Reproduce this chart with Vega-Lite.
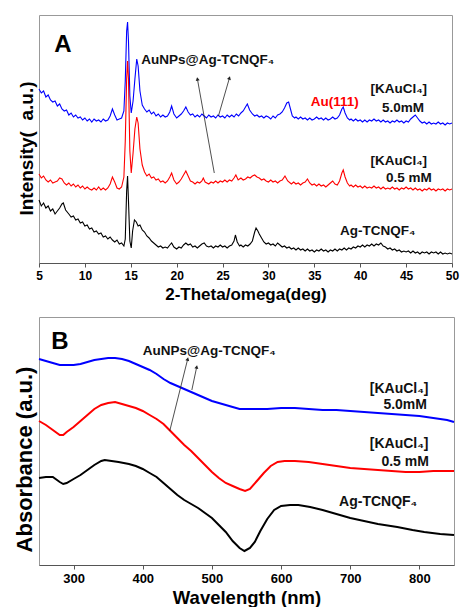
{
 "$schema": "https://vega.github.io/schema/vega-lite/v6.json",
 "background": "white",
 "padding": {"left": 12, "top": 14, "right": 4, "bottom": 0},
 "spacing": 13,
 "datasets": {
  "xrd": [
   {"s":"5.0mM","x":5,"y":174},{"s":"5.0mM","x":5.25,"y":170},{"s":"5.0mM","x":5.5,"y":172},{"s":"5.0mM","x":5.75,"y":166},{"s":"5.0mM","x":6,"y":168},{"s":"5.0mM","x":6.25,"y":163},{"s":"5.0mM","x":6.5,"y":161},{"s":"5.0mM","x":6.75,"y":162},{"s":"5.0mM","x":7,"y":157},{"s":"5.0mM","x":7.25,"y":159},{"s":"5.0mM","x":7.5,"y":154},{"s":"5.0mM","x":7.75,"y":152},{"s":"5.0mM","x":8,"y":153},{"s":"5.0mM","x":8.25,"y":148},{"s":"5.0mM","x":8.5,"y":150},{"s":"5.0mM","x":8.75,"y":146},{"s":"5.0mM","x":9,"y":148},{"s":"5.0mM","x":9.25,"y":145},{"s":"5.0mM","x":9.5,"y":146},{"s":"5.0mM","x":9.75,"y":143},{"s":"5.0mM","x":10,"y":145},{"s":"5.0mM","x":10.25,"y":142},{"s":"5.0mM","x":10.5,"y":144},{"s":"5.0mM","x":10.75,"y":141},{"s":"5.0mM","x":11,"y":144},{"s":"5.0mM","x":11.25,"y":142},{"s":"5.0mM","x":11.5,"y":143},{"s":"5.0mM","x":11.75,"y":141},{"s":"5.0mM","x":12,"y":144},{"s":"5.0mM","x":12.25,"y":142},{"s":"5.0mM","x":12.5,"y":143},{"s":"5.0mM","x":12.75,"y":147},{"s":"5.0mM","x":13,"y":154},{"s":"5.0mM","x":13.25,"y":148},{"s":"5.0mM","x":13.5,"y":143},{"s":"5.0mM","x":13.75,"y":144},{"s":"5.0mM","x":14,"y":145},{"s":"5.0mM","x":14.25,"y":152},{"s":"5.0mM","x":14.4,"y":182},{"s":"5.0mM","x":14.55,"y":232},{"s":"5.0mM","x":14.65,"y":241},{"s":"5.0mM","x":14.75,"y":222},{"s":"5.0mM","x":14.9,"y":167},{"s":"5.0mM","x":15.05,"y":150},{"s":"5.0mM","x":15.25,"y":162},{"s":"5.0mM","x":15.45,"y":184},{"s":"5.0mM","x":15.65,"y":204},{"s":"5.0mM","x":15.8,"y":197},{"s":"5.0mM","x":16,"y":172},{"s":"5.0mM","x":16.25,"y":158},{"s":"5.0mM","x":16.5,"y":154},{"s":"5.0mM","x":16.75,"y":151},{"s":"5.0mM","x":17,"y":153},{"s":"5.0mM","x":17.25,"y":149},{"s":"5.0mM","x":17.5,"y":151},{"s":"5.0mM","x":17.75,"y":147},{"s":"5.0mM","x":18,"y":149},{"s":"5.0mM","x":18.25,"y":146},{"s":"5.0mM","x":18.5,"y":148},{"s":"5.0mM","x":18.75,"y":146},{"s":"5.0mM","x":19,"y":147},{"s":"5.0mM","x":19.25,"y":151},{"s":"5.0mM","x":19.45,"y":157},{"s":"5.0mM","x":19.7,"y":149},{"s":"5.0mM","x":20,"y":145},{"s":"5.0mM","x":20.25,"y":147},{"s":"5.0mM","x":20.5,"y":149},{"s":"5.0mM","x":20.75,"y":152},{"s":"5.0mM","x":21,"y":156},{"s":"5.0mM","x":21.25,"y":151},{"s":"5.0mM","x":21.5,"y":148},{"s":"5.0mM","x":21.75,"y":149},{"s":"5.0mM","x":22,"y":146},{"s":"5.0mM","x":22.25,"y":148},{"s":"5.0mM","x":22.5,"y":146},{"s":"5.0mM","x":22.75,"y":149},{"s":"5.0mM","x":23,"y":147},{"s":"5.0mM","x":23.25,"y":145},{"s":"5.0mM","x":23.5,"y":148},{"s":"5.0mM","x":23.75,"y":146},{"s":"5.0mM","x":24,"y":147},{"s":"5.0mM","x":24.25,"y":145},{"s":"5.0mM","x":24.5,"y":148},{"s":"5.0mM","x":24.75,"y":146},{"s":"5.0mM","x":25,"y":147},{"s":"5.0mM","x":25.25,"y":145},{"s":"5.0mM","x":25.5,"y":148},{"s":"5.0mM","x":25.75,"y":146},{"s":"5.0mM","x":26,"y":148},{"s":"5.0mM","x":26.25,"y":146},{"s":"5.0mM","x":26.5,"y":149},{"s":"5.0mM","x":26.75,"y":147},{"s":"5.0mM","x":27,"y":150},{"s":"5.0mM","x":27.25,"y":152},{"s":"5.0mM","x":27.5,"y":156},{"s":"5.0mM","x":27.7,"y":159},{"s":"5.0mM","x":27.95,"y":153},{"s":"5.0mM","x":28.25,"y":149},{"s":"5.0mM","x":28.5,"y":147},{"s":"5.0mM","x":28.75,"y":148},{"s":"5.0mM","x":29,"y":146},{"s":"5.0mM","x":29.25,"y":147},{"s":"5.0mM","x":29.5,"y":145},{"s":"5.0mM","x":29.75,"y":147},{"s":"5.0mM","x":30,"y":146},{"s":"5.0mM","x":30.25,"y":144},{"s":"5.0mM","x":30.5,"y":147},{"s":"5.0mM","x":30.75,"y":145},{"s":"5.0mM","x":31,"y":148},{"s":"5.0mM","x":31.25,"y":149},{"s":"5.0mM","x":31.5,"y":151},{"s":"5.0mM","x":31.75,"y":155},{"s":"5.0mM","x":32,"y":160},{"s":"5.0mM","x":32.2,"y":161},{"s":"5.0mM","x":32.4,"y":154},{"s":"5.0mM","x":32.6,"y":147},{"s":"5.0mM","x":32.85,"y":145},{"s":"5.0mM","x":33,"y":146},{"s":"5.0mM","x":33.25,"y":144},{"s":"5.0mM","x":33.5,"y":146},{"s":"5.0mM","x":33.75,"y":144},{"s":"5.0mM","x":34,"y":145},{"s":"5.0mM","x":34.25,"y":143},{"s":"5.0mM","x":34.5,"y":145},{"s":"5.0mM","x":34.75,"y":143},{"s":"5.0mM","x":35,"y":144},{"s":"5.0mM","x":35.25,"y":146},{"s":"5.0mM","x":35.5,"y":144},{"s":"5.0mM","x":35.75,"y":145},{"s":"5.0mM","x":36,"y":143},{"s":"5.0mM","x":36.25,"y":145},{"s":"5.0mM","x":36.5,"y":143},{"s":"5.0mM","x":36.75,"y":144},{"s":"5.0mM","x":37,"y":146},{"s":"5.0mM","x":37.25,"y":144},{"s":"5.0mM","x":37.5,"y":145},{"s":"5.0mM","x":37.75,"y":148},{"s":"5.0mM","x":38,"y":154},{"s":"5.0mM","x":38.15,"y":156},{"s":"5.0mM","x":38.35,"y":150},{"s":"5.0mM","x":38.6,"y":145},{"s":"5.0mM","x":38.85,"y":143},{"s":"5.0mM","x":39,"y":144},{"s":"5.0mM","x":39.25,"y":142},{"s":"5.0mM","x":39.5,"y":144},{"s":"5.0mM","x":39.75,"y":142},{"s":"5.0mM","x":40,"y":143},{"s":"5.0mM","x":40.25,"y":141},{"s":"5.0mM","x":40.5,"y":143},{"s":"5.0mM","x":40.75,"y":141},{"s":"5.0mM","x":41,"y":143},{"s":"5.0mM","x":41.25,"y":142},{"s":"5.0mM","x":41.5,"y":144},{"s":"5.0mM","x":41.75,"y":142},{"s":"5.0mM","x":42,"y":143},{"s":"5.0mM","x":42.25,"y":141},{"s":"5.0mM","x":42.5,"y":143},{"s":"5.0mM","x":42.75,"y":141},{"s":"5.0mM","x":43,"y":142},{"s":"5.0mM","x":43.25,"y":140},{"s":"5.0mM","x":43.5,"y":142},{"s":"5.0mM","x":43.75,"y":141},{"s":"5.0mM","x":44,"y":143},{"s":"5.0mM","x":44.25,"y":141},{"s":"5.0mM","x":44.5,"y":142},{"s":"5.0mM","x":44.75,"y":140},{"s":"5.0mM","x":45,"y":142},{"s":"5.0mM","x":45.25,"y":141},{"s":"5.0mM","x":45.5,"y":144},{"s":"5.0mM","x":45.75,"y":146},{"s":"5.0mM","x":46,"y":148},{"s":"5.0mM","x":46.25,"y":145},{"s":"5.0mM","x":46.5,"y":142},{"s":"5.0mM","x":46.75,"y":140},{"s":"5.0mM","x":47,"y":141},{"s":"5.0mM","x":47.25,"y":139},{"s":"5.0mM","x":47.5,"y":141},{"s":"5.0mM","x":47.75,"y":139},{"s":"5.0mM","x":48,"y":140},{"s":"5.0mM","x":48.25,"y":139},{"s":"5.0mM","x":48.5,"y":141},{"s":"5.0mM","x":48.75,"y":139},{"s":"5.0mM","x":49,"y":140},{"s":"5.0mM","x":49.25,"y":138},{"s":"5.0mM","x":49.5,"y":140},{"s":"5.0mM","x":49.75,"y":139},{"s":"5.0mM","x":50,"y":140},

   {"s":"0.5mM","x":5,"y":89},{"s":"0.5mM","x":5.25,"y":85},{"s":"0.5mM","x":5.5,"y":87},{"s":"0.5mM","x":5.75,"y":83},{"s":"0.5mM","x":6,"y":81},{"s":"0.5mM","x":6.25,"y":83},{"s":"0.5mM","x":6.5,"y":80},{"s":"0.5mM","x":6.75,"y":81},{"s":"0.5mM","x":7,"y":82},{"s":"0.5mM","x":7.25,"y":85},{"s":"0.5mM","x":7.5,"y":84},{"s":"0.5mM","x":7.75,"y":80},{"s":"0.5mM","x":8,"y":78},{"s":"0.5mM","x":8.25,"y":80},{"s":"0.5mM","x":8.5,"y":77},{"s":"0.5mM","x":8.75,"y":79},{"s":"0.5mM","x":9,"y":76},{"s":"0.5mM","x":9.25,"y":78},{"s":"0.5mM","x":9.5,"y":75},{"s":"0.5mM","x":9.75,"y":77},{"s":"0.5mM","x":10,"y":74},{"s":"0.5mM","x":10.25,"y":76},{"s":"0.5mM","x":10.5,"y":74},{"s":"0.5mM","x":10.75,"y":73},{"s":"0.5mM","x":11,"y":75},{"s":"0.5mM","x":11.25,"y":73},{"s":"0.5mM","x":11.5,"y":76},{"s":"0.5mM","x":11.75,"y":73},{"s":"0.5mM","x":12,"y":75},{"s":"0.5mM","x":12.25,"y":73},{"s":"0.5mM","x":12.5,"y":75},{"s":"0.5mM","x":12.75,"y":79},{"s":"0.5mM","x":13,"y":86},{"s":"0.5mM","x":13.25,"y":81},{"s":"0.5mM","x":13.5,"y":75},{"s":"0.5mM","x":13.75,"y":74},{"s":"0.5mM","x":14,"y":76},{"s":"0.5mM","x":14.25,"y":86},{"s":"0.5mM","x":14.4,"y":122},{"s":"0.5mM","x":14.55,"y":184},{"s":"0.5mM","x":14.65,"y":202},{"s":"0.5mM","x":14.75,"y":184},{"s":"0.5mM","x":14.9,"y":112},{"s":"0.5mM","x":15.05,"y":90},{"s":"0.5mM","x":15.25,"y":110},{"s":"0.5mM","x":15.45,"y":134},{"s":"0.5mM","x":15.65,"y":146},{"s":"0.5mM","x":15.8,"y":140},{"s":"0.5mM","x":16,"y":114},{"s":"0.5mM","x":16.25,"y":98},{"s":"0.5mM","x":16.5,"y":91},{"s":"0.5mM","x":16.75,"y":87},{"s":"0.5mM","x":17,"y":89},{"s":"0.5mM","x":17.25,"y":85},{"s":"0.5mM","x":17.5,"y":86},{"s":"0.5mM","x":17.75,"y":83},{"s":"0.5mM","x":18,"y":84},{"s":"0.5mM","x":18.25,"y":81},{"s":"0.5mM","x":18.5,"y":82},{"s":"0.5mM","x":18.75,"y":80},{"s":"0.5mM","x":19,"y":82},{"s":"0.5mM","x":19.25,"y":86},{"s":"0.5mM","x":19.45,"y":90},{"s":"0.5mM","x":19.7,"y":83},{"s":"0.5mM","x":20,"y":79},{"s":"0.5mM","x":20.25,"y":81},{"s":"0.5mM","x":20.5,"y":84},{"s":"0.5mM","x":20.75,"y":88},{"s":"0.5mM","x":21,"y":92},{"s":"0.5mM","x":21.25,"y":87},{"s":"0.5mM","x":21.5,"y":82},{"s":"0.5mM","x":21.75,"y":81},{"s":"0.5mM","x":22,"y":79},{"s":"0.5mM","x":22.25,"y":81},{"s":"0.5mM","x":22.5,"y":80},{"s":"0.5mM","x":22.75,"y":82},{"s":"0.5mM","x":22.9,"y":85},{"s":"0.5mM","x":23.1,"y":81},{"s":"0.5mM","x":23.5,"y":79},{"s":"0.5mM","x":23.75,"y":81},{"s":"0.5mM","x":24,"y":80},{"s":"0.5mM","x":24.25,"y":82},{"s":"0.5mM","x":24.5,"y":80},{"s":"0.5mM","x":24.75,"y":82},{"s":"0.5mM","x":25,"y":81},{"s":"0.5mM","x":25.25,"y":83},{"s":"0.5mM","x":25.5,"y":81},{"s":"0.5mM","x":25.75,"y":83},{"s":"0.5mM","x":26,"y":82},{"s":"0.5mM","x":26.25,"y":85},{"s":"0.5mM","x":26.45,"y":88},{"s":"0.5mM","x":26.7,"y":83},{"s":"0.5mM","x":27,"y":85},{"s":"0.5mM","x":27.25,"y":83},{"s":"0.5mM","x":27.5,"y":84},{"s":"0.5mM","x":27.75,"y":86},{"s":"0.5mM","x":28,"y":85},{"s":"0.5mM","x":28.25,"y":87},{"s":"0.5mM","x":28.5,"y":88},{"s":"0.5mM","x":28.75,"y":86},{"s":"0.5mM","x":29,"y":85},{"s":"0.5mM","x":29.25,"y":83},{"s":"0.5mM","x":29.5,"y":84},{"s":"0.5mM","x":29.75,"y":82},{"s":"0.5mM","x":30,"y":81},{"s":"0.5mM","x":30.25,"y":83},{"s":"0.5mM","x":30.5,"y":81},{"s":"0.5mM","x":30.75,"y":82},{"s":"0.5mM","x":31,"y":80},{"s":"0.5mM","x":31.25,"y":82},{"s":"0.5mM","x":31.5,"y":83},{"s":"0.5mM","x":31.8,"y":87},{"s":"0.5mM","x":32.1,"y":82},{"s":"0.5mM","x":32.5,"y":79},{"s":"0.5mM","x":32.75,"y":81},{"s":"0.5mM","x":33,"y":79},{"s":"0.5mM","x":33.25,"y":80},{"s":"0.5mM","x":33.5,"y":78},{"s":"0.5mM","x":33.75,"y":80},{"s":"0.5mM","x":34,"y":81},{"s":"0.5mM","x":34.25,"y":84},{"s":"0.5mM","x":34.5,"y":80},{"s":"0.5mM","x":34.75,"y":78},{"s":"0.5mM","x":35,"y":79},{"s":"0.5mM","x":35.25,"y":77},{"s":"0.5mM","x":35.5,"y":79},{"s":"0.5mM","x":35.75,"y":77},{"s":"0.5mM","x":36,"y":78},{"s":"0.5mM","x":36.25,"y":76},{"s":"0.5mM","x":36.5,"y":78},{"s":"0.5mM","x":36.75,"y":80},{"s":"0.5mM","x":37,"y":82},{"s":"0.5mM","x":37.25,"y":79},{"s":"0.5mM","x":37.5,"y":78},{"s":"0.5mM","x":37.75,"y":82},{"s":"0.5mM","x":38,"y":90},{"s":"0.5mM","x":38.15,"y":93},{"s":"0.5mM","x":38.35,"y":86},{"s":"0.5mM","x":38.6,"y":80},{"s":"0.5mM","x":38.85,"y":77},{"s":"0.5mM","x":39,"y":78},{"s":"0.5mM","x":39.25,"y":76},{"s":"0.5mM","x":39.5,"y":78},{"s":"0.5mM","x":39.75,"y":76},{"s":"0.5mM","x":40,"y":77},{"s":"0.5mM","x":40.25,"y":75},{"s":"0.5mM","x":40.5,"y":77},{"s":"0.5mM","x":40.75,"y":75},{"s":"0.5mM","x":41,"y":76},{"s":"0.5mM","x":41.25,"y":75},{"s":"0.5mM","x":41.5,"y":77},{"s":"0.5mM","x":41.75,"y":75},{"s":"0.5mM","x":42,"y":76},{"s":"0.5mM","x":42.25,"y":74},{"s":"0.5mM","x":42.5,"y":76},{"s":"0.5mM","x":42.75,"y":74},{"s":"0.5mM","x":43,"y":75},{"s":"0.5mM","x":43.25,"y":74},{"s":"0.5mM","x":43.5,"y":76},{"s":"0.5mM","x":43.75,"y":74},{"s":"0.5mM","x":44,"y":75},{"s":"0.5mM","x":44.25,"y":73},{"s":"0.5mM","x":44.5,"y":75},{"s":"0.5mM","x":44.75,"y":74},{"s":"0.5mM","x":45,"y":76},{"s":"0.5mM","x":45.25,"y":74},{"s":"0.5mM","x":45.5,"y":75},{"s":"0.5mM","x":45.75,"y":73},{"s":"0.5mM","x":46,"y":75},{"s":"0.5mM","x":46.25,"y":73},{"s":"0.5mM","x":46.5,"y":74},{"s":"0.5mM","x":46.75,"y":72},{"s":"0.5mM","x":47,"y":74},{"s":"0.5mM","x":47.25,"y":73},{"s":"0.5mM","x":47.5,"y":75},{"s":"0.5mM","x":47.75,"y":73},{"s":"0.5mM","x":48,"y":74},{"s":"0.5mM","x":48.25,"y":72},{"s":"0.5mM","x":48.5,"y":74},{"s":"0.5mM","x":48.75,"y":73},{"s":"0.5mM","x":49,"y":74},{"s":"0.5mM","x":49.25,"y":72},{"s":"0.5mM","x":49.5,"y":74},{"s":"0.5mM","x":49.75,"y":73},{"s":"0.5mM","x":50,"y":74},

   {"s":"Ag-TCNQF4","x":5,"y":63},{"s":"Ag-TCNQF4","x":5.25,"y":57},{"s":"Ag-TCNQF4","x":5.5,"y":60},{"s":"Ag-TCNQF4","x":5.75,"y":55},{"s":"Ag-TCNQF4","x":6,"y":57},{"s":"Ag-TCNQF4","x":6.25,"y":52},{"s":"Ag-TCNQF4","x":6.5,"y":54},{"s":"Ag-TCNQF4","x":6.75,"y":49},{"s":"Ag-TCNQF4","x":7,"y":52},{"s":"Ag-TCNQF4","x":7.25,"y":55},{"s":"Ag-TCNQF4","x":7.5,"y":59},{"s":"Ag-TCNQF4","x":7.65,"y":60},{"s":"Ag-TCNQF4","x":7.9,"y":53},{"s":"Ag-TCNQF4","x":8.25,"y":49},{"s":"Ag-TCNQF4","x":8.5,"y":46},{"s":"Ag-TCNQF4","x":8.75,"y":47},{"s":"Ag-TCNQF4","x":9,"y":43},{"s":"Ag-TCNQF4","x":9.25,"y":44},{"s":"Ag-TCNQF4","x":9.5,"y":40},{"s":"Ag-TCNQF4","x":9.75,"y":41},{"s":"Ag-TCNQF4","x":10,"y":37},{"s":"Ag-TCNQF4","x":10.25,"y":38},{"s":"Ag-TCNQF4","x":10.5,"y":34},{"s":"Ag-TCNQF4","x":10.75,"y":35},{"s":"Ag-TCNQF4","x":11,"y":31},{"s":"Ag-TCNQF4","x":11.25,"y":32},{"s":"Ag-TCNQF4","x":11.5,"y":29},{"s":"Ag-TCNQF4","x":11.75,"y":30},{"s":"Ag-TCNQF4","x":12,"y":26},{"s":"Ag-TCNQF4","x":12.25,"y":27},{"s":"Ag-TCNQF4","x":12.5,"y":24},{"s":"Ag-TCNQF4","x":12.75,"y":26},{"s":"Ag-TCNQF4","x":13,"y":23},{"s":"Ag-TCNQF4","x":13.25,"y":21},{"s":"Ag-TCNQF4","x":13.5,"y":23},{"s":"Ag-TCNQF4","x":13.75,"y":19},{"s":"Ag-TCNQF4","x":14,"y":20},{"s":"Ag-TCNQF4","x":14.25,"y":17},{"s":"Ag-TCNQF4","x":14.4,"y":24},{"s":"Ag-TCNQF4","x":14.55,"y":72},{"s":"Ag-TCNQF4","x":14.65,"y":87},{"s":"Ag-TCNQF4","x":14.75,"y":62},{"s":"Ag-TCNQF4","x":14.9,"y":22},{"s":"Ag-TCNQF4","x":15.05,"y":15},{"s":"Ag-TCNQF4","x":15.2,"y":32},{"s":"Ag-TCNQF4","x":15.4,"y":43},{"s":"Ag-TCNQF4","x":15.6,"y":41},{"s":"Ag-TCNQF4","x":15.8,"y":37},{"s":"Ag-TCNQF4","x":16,"y":38},{"s":"Ag-TCNQF4","x":16.25,"y":33},{"s":"Ag-TCNQF4","x":16.5,"y":31},{"s":"Ag-TCNQF4","x":16.75,"y":27},{"s":"Ag-TCNQF4","x":17,"y":25},{"s":"Ag-TCNQF4","x":17.25,"y":22},{"s":"Ag-TCNQF4","x":17.5,"y":20},{"s":"Ag-TCNQF4","x":17.75,"y":18},{"s":"Ag-TCNQF4","x":18,"y":16},{"s":"Ag-TCNQF4","x":18.25,"y":17},{"s":"Ag-TCNQF4","x":18.5,"y":15},{"s":"Ag-TCNQF4","x":18.75,"y":16},{"s":"Ag-TCNQF4","x":19,"y":15},{"s":"Ag-TCNQF4","x":19.25,"y":18},{"s":"Ag-TCNQF4","x":19.45,"y":20},{"s":"Ag-TCNQF4","x":19.7,"y":16},{"s":"Ag-TCNQF4","x":20,"y":14},{"s":"Ag-TCNQF4","x":20.25,"y":16},{"s":"Ag-TCNQF4","x":20.5,"y":15},{"s":"Ag-TCNQF4","x":20.75,"y":18},{"s":"Ag-TCNQF4","x":21,"y":20},{"s":"Ag-TCNQF4","x":21.25,"y":18},{"s":"Ag-TCNQF4","x":21.5,"y":19},{"s":"Ag-TCNQF4","x":21.75,"y":16},{"s":"Ag-TCNQF4","x":22,"y":17},{"s":"Ag-TCNQF4","x":22.25,"y":15},{"s":"Ag-TCNQF4","x":22.5,"y":17},{"s":"Ag-TCNQF4","x":22.75,"y":19},{"s":"Ag-TCNQF4","x":23,"y":20},{"s":"Ag-TCNQF4","x":23.25,"y":17},{"s":"Ag-TCNQF4","x":23.5,"y":16},{"s":"Ag-TCNQF4","x":23.75,"y":17},{"s":"Ag-TCNQF4","x":24,"y":15},{"s":"Ag-TCNQF4","x":24.25,"y":17},{"s":"Ag-TCNQF4","x":24.5,"y":16},{"s":"Ag-TCNQF4","x":24.75,"y":18},{"s":"Ag-TCNQF4","x":25,"y":16},{"s":"Ag-TCNQF4","x":25.25,"y":17},{"s":"Ag-TCNQF4","x":25.5,"y":15},{"s":"Ag-TCNQF4","x":25.75,"y":17},{"s":"Ag-TCNQF4","x":26,"y":18},{"s":"Ag-TCNQF4","x":26.25,"y":22},{"s":"Ag-TCNQF4","x":26.4,"y":28},{"s":"Ag-TCNQF4","x":26.6,"y":21},{"s":"Ag-TCNQF4","x":26.85,"y":17},{"s":"Ag-TCNQF4","x":27,"y":18},{"s":"Ag-TCNQF4","x":27.25,"y":16},{"s":"Ag-TCNQF4","x":27.5,"y":18},{"s":"Ag-TCNQF4","x":27.75,"y":17},{"s":"Ag-TCNQF4","x":28,"y":19},{"s":"Ag-TCNQF4","x":28.25,"y":22},{"s":"Ag-TCNQF4","x":28.5,"y":31},{"s":"Ag-TCNQF4","x":28.65,"y":35},{"s":"Ag-TCNQF4","x":28.85,"y":32},{"s":"Ag-TCNQF4","x":29,"y":29},{"s":"Ag-TCNQF4","x":29.25,"y":25},{"s":"Ag-TCNQF4","x":29.5,"y":21},{"s":"Ag-TCNQF4","x":29.75,"y":19},{"s":"Ag-TCNQF4","x":30,"y":20},{"s":"Ag-TCNQF4","x":30.25,"y":18},{"s":"Ag-TCNQF4","x":30.5,"y":19},{"s":"Ag-TCNQF4","x":30.75,"y":17},{"s":"Ag-TCNQF4","x":31,"y":20},{"s":"Ag-TCNQF4","x":31.25,"y":18},{"s":"Ag-TCNQF4","x":31.5,"y":16},{"s":"Ag-TCNQF4","x":31.75,"y":17},{"s":"Ag-TCNQF4","x":32,"y":15},{"s":"Ag-TCNQF4","x":32.25,"y":16},{"s":"Ag-TCNQF4","x":32.5,"y":14},{"s":"Ag-TCNQF4","x":32.75,"y":15},{"s":"Ag-TCNQF4","x":33,"y":13},{"s":"Ag-TCNQF4","x":33.25,"y":15},{"s":"Ag-TCNQF4","x":33.5,"y":13},{"s":"Ag-TCNQF4","x":33.75,"y":14},{"s":"Ag-TCNQF4","x":34,"y":12},{"s":"Ag-TCNQF4","x":34.25,"y":14},{"s":"Ag-TCNQF4","x":34.5,"y":12},{"s":"Ag-TCNQF4","x":34.75,"y":13},{"s":"Ag-TCNQF4","x":35,"y":11},{"s":"Ag-TCNQF4","x":35.25,"y":13},{"s":"Ag-TCNQF4","x":35.5,"y":12},{"s":"Ag-TCNQF4","x":35.75,"y":14},{"s":"Ag-TCNQF4","x":36,"y":12},{"s":"Ag-TCNQF4","x":36.25,"y":13},{"s":"Ag-TCNQF4","x":36.5,"y":11},{"s":"Ag-TCNQF4","x":36.75,"y":13},{"s":"Ag-TCNQF4","x":37,"y":12},{"s":"Ag-TCNQF4","x":37.25,"y":14},{"s":"Ag-TCNQF4","x":37.5,"y":12},{"s":"Ag-TCNQF4","x":37.75,"y":14},{"s":"Ag-TCNQF4","x":38,"y":13},{"s":"Ag-TCNQF4","x":38.25,"y":15},{"s":"Ag-TCNQF4","x":38.5,"y":13},{"s":"Ag-TCNQF4","x":38.75,"y":15},{"s":"Ag-TCNQF4","x":39,"y":14},{"s":"Ag-TCNQF4","x":39.25,"y":16},{"s":"Ag-TCNQF4","x":39.5,"y":15},{"s":"Ag-TCNQF4","x":39.75,"y":17},{"s":"Ag-TCNQF4","x":40,"y":16},{"s":"Ag-TCNQF4","x":40.25,"y":18},{"s":"Ag-TCNQF4","x":40.5,"y":16},{"s":"Ag-TCNQF4","x":40.75,"y":18},{"s":"Ag-TCNQF4","x":41,"y":17},{"s":"Ag-TCNQF4","x":41.25,"y":19},{"s":"Ag-TCNQF4","x":41.5,"y":17},{"s":"Ag-TCNQF4","x":41.75,"y":19},{"s":"Ag-TCNQF4","x":42,"y":18},{"s":"Ag-TCNQF4","x":42.25,"y":20},{"s":"Ag-TCNQF4","x":42.5,"y":17},{"s":"Ag-TCNQF4","x":42.75,"y":16},{"s":"Ag-TCNQF4","x":43,"y":14},{"s":"Ag-TCNQF4","x":43.25,"y":15},{"s":"Ag-TCNQF4","x":43.5,"y":13},{"s":"Ag-TCNQF4","x":43.75,"y":14},{"s":"Ag-TCNQF4","x":44,"y":12},{"s":"Ag-TCNQF4","x":44.25,"y":13},{"s":"Ag-TCNQF4","x":44.5,"y":11},{"s":"Ag-TCNQF4","x":44.75,"y":12},{"s":"Ag-TCNQF4","x":45,"y":11},{"s":"Ag-TCNQF4","x":45.25,"y":12},{"s":"Ag-TCNQF4","x":45.5,"y":10},{"s":"Ag-TCNQF4","x":45.75,"y":12},{"s":"Ag-TCNQF4","x":46,"y":10},{"s":"Ag-TCNQF4","x":46.25,"y":11},{"s":"Ag-TCNQF4","x":46.5,"y":9},{"s":"Ag-TCNQF4","x":46.75,"y":11},{"s":"Ag-TCNQF4","x":47,"y":10},{"s":"Ag-TCNQF4","x":47.25,"y":11},{"s":"Ag-TCNQF4","x":47.5,"y":9},{"s":"Ag-TCNQF4","x":47.75,"y":11},{"s":"Ag-TCNQF4","x":48,"y":10},{"s":"Ag-TCNQF4","x":48.25,"y":11},{"s":"Ag-TCNQF4","x":48.5,"y":9},{"s":"Ag-TCNQF4","x":48.75,"y":11},{"s":"Ag-TCNQF4","x":49,"y":9},{"s":"Ag-TCNQF4","x":49.25,"y":10},{"s":"Ag-TCNQF4","x":49.5,"y":9},{"s":"Ag-TCNQF4","x":49.75,"y":10},{"s":"Ag-TCNQF4","x":50,"y":9}
  ],
  "uv": [
   {"s":"5.0mM","x":250,"y":206},{"s":"5.0mM","x":260,"y":204},{"s":"5.0mM","x":270,"y":202},{"s":"5.0mM","x":280,"y":200},{"s":"5.0mM","x":290,"y":200},{"s":"5.0mM","x":300,"y":200},{"s":"5.0mM","x":310,"y":201},{"s":"5.0mM","x":320,"y":203},{"s":"5.0mM","x":330,"y":205},{"s":"5.0mM","x":340,"y":206},{"s":"5.0mM","x":350,"y":207},{"s":"5.0mM","x":360,"y":207},{"s":"5.0mM","x":370,"y":206},{"s":"5.0mM","x":380,"y":204},{"s":"5.0mM","x":390,"y":201},{"s":"5.0mM","x":400,"y":198},{"s":"5.0mM","x":410,"y":195},{"s":"5.0mM","x":420,"y":191},{"s":"5.0mM","x":430,"y":186},{"s":"5.0mM","x":440,"y":182},{"s":"5.0mM","x":450,"y":179},{"s":"5.0mM","x":460,"y":176},{"s":"5.0mM","x":470,"y":173},{"s":"5.0mM","x":480,"y":170},{"s":"5.0mM","x":490,"y":167},{"s":"5.0mM","x":500,"y":164},{"s":"5.0mM","x":510,"y":162},{"s":"5.0mM","x":520,"y":160},{"s":"5.0mM","x":530,"y":158},{"s":"5.0mM","x":540,"y":156},{"s":"5.0mM","x":550,"y":156},{"s":"5.0mM","x":560,"y":156},{"s":"5.0mM","x":580,"y":156},{"s":"5.0mM","x":600,"y":157},{"s":"5.0mM","x":620,"y":157},{"s":"5.0mM","x":640,"y":156},{"s":"5.0mM","x":660,"y":155},{"s":"5.0mM","x":680,"y":155},{"s":"5.0mM","x":700,"y":154},{"s":"5.0mM","x":720,"y":153},{"s":"5.0mM","x":740,"y":152},{"s":"5.0mM","x":760,"y":151},{"s":"5.0mM","x":780,"y":150},{"s":"5.0mM","x":800,"y":149},{"s":"5.0mM","x":820,"y":147},{"s":"5.0mM","x":840,"y":145},{"s":"5.0mM","x":850,"y":143},
   {"s":"0.5mM","x":250,"y":144},{"s":"0.5mM","x":260,"y":140},{"s":"0.5mM","x":270,"y":135},{"s":"0.5mM","x":280,"y":130},{"s":"0.5mM","x":285,"y":130},{"s":"0.5mM","x":290,"y":133},{"s":"0.5mM","x":300,"y":138},{"s":"0.5mM","x":310,"y":144},{"s":"0.5mM","x":320,"y":150},{"s":"0.5mM","x":330,"y":156},{"s":"0.5mM","x":340,"y":160},{"s":"0.5mM","x":350,"y":162},{"s":"0.5mM","x":360,"y":163},{"s":"0.5mM","x":370,"y":161},{"s":"0.5mM","x":380,"y":159},{"s":"0.5mM","x":390,"y":157},{"s":"0.5mM","x":400,"y":154},{"s":"0.5mM","x":410,"y":150},{"s":"0.5mM","x":420,"y":146},{"s":"0.5mM","x":430,"y":141},{"s":"0.5mM","x":440,"y":134},{"s":"0.5mM","x":450,"y":127},{"s":"0.5mM","x":460,"y":120},{"s":"0.5mM","x":470,"y":114},{"s":"0.5mM","x":480,"y":107},{"s":"0.5mM","x":490,"y":100},{"s":"0.5mM","x":500,"y":93},{"s":"0.5mM","x":510,"y":87},{"s":"0.5mM","x":520,"y":82},{"s":"0.5mM","x":530,"y":79},{"s":"0.5mM","x":540,"y":76},{"s":"0.5mM","x":548,"y":74},{"s":"0.5mM","x":555,"y":76},{"s":"0.5mM","x":565,"y":84},{"s":"0.5mM","x":575,"y":92},{"s":"0.5mM","x":585,"y":99},{"s":"0.5mM","x":595,"y":103},{"s":"0.5mM","x":605,"y":104},{"s":"0.5mM","x":620,"y":104},{"s":"0.5mM","x":640,"y":103},{"s":"0.5mM","x":660,"y":101},{"s":"0.5mM","x":680,"y":99},{"s":"0.5mM","x":700,"y":97},{"s":"0.5mM","x":720,"y":96},{"s":"0.5mM","x":740,"y":95},{"s":"0.5mM","x":760,"y":94},{"s":"0.5mM","x":780,"y":93},{"s":"0.5mM","x":800,"y":93},{"s":"0.5mM","x":820,"y":94},{"s":"0.5mM","x":840,"y":94},{"s":"0.5mM","x":850,"y":94},
   {"s":"Ag-TCNQF4","x":250,"y":87},{"s":"Ag-TCNQF4","x":260,"y":88},{"s":"Ag-TCNQF4","x":270,"y":88},{"s":"Ag-TCNQF4","x":280,"y":83},{"s":"Ag-TCNQF4","x":285,"y":81},{"s":"Ag-TCNQF4","x":290,"y":82},{"s":"Ag-TCNQF4","x":300,"y":86},{"s":"Ag-TCNQF4","x":310,"y":90},{"s":"Ag-TCNQF4","x":320,"y":95},{"s":"Ag-TCNQF4","x":330,"y":100},{"s":"Ag-TCNQF4","x":340,"y":104},{"s":"Ag-TCNQF4","x":345,"y":105},{"s":"Ag-TCNQF4","x":355,"y":104},{"s":"Ag-TCNQF4","x":365,"y":103},{"s":"Ag-TCNQF4","x":380,"y":101},{"s":"Ag-TCNQF4","x":390,"y":99},{"s":"Ag-TCNQF4","x":400,"y":96},{"s":"Ag-TCNQF4","x":410,"y":92},{"s":"Ag-TCNQF4","x":420,"y":88},{"s":"Ag-TCNQF4","x":430,"y":82},{"s":"Ag-TCNQF4","x":440,"y":76},{"s":"Ag-TCNQF4","x":450,"y":70},{"s":"Ag-TCNQF4","x":460,"y":65},{"s":"Ag-TCNQF4","x":470,"y":61},{"s":"Ag-TCNQF4","x":480,"y":57},{"s":"Ag-TCNQF4","x":490,"y":52},{"s":"Ag-TCNQF4","x":500,"y":47},{"s":"Ag-TCNQF4","x":510,"y":40},{"s":"Ag-TCNQF4","x":520,"y":33},{"s":"Ag-TCNQF4","x":530,"y":24},{"s":"Ag-TCNQF4","x":540,"y":17},{"s":"Ag-TCNQF4","x":547,"y":14},{"s":"Ag-TCNQF4","x":555,"y":17},{"s":"Ag-TCNQF4","x":562,"y":23},{"s":"Ag-TCNQF4","x":570,"y":34},{"s":"Ag-TCNQF4","x":580,"y":46},{"s":"Ag-TCNQF4","x":590,"y":55},{"s":"Ag-TCNQF4","x":600,"y":59},{"s":"Ag-TCNQF4","x":613,"y":60},{"s":"Ag-TCNQF4","x":625,"y":60},{"s":"Ag-TCNQF4","x":642,"y":58},{"s":"Ag-TCNQF4","x":660,"y":55},{"s":"Ag-TCNQF4","x":680,"y":51},{"s":"Ag-TCNQF4","x":700,"y":47},{"s":"Ag-TCNQF4","x":720,"y":44},{"s":"Ag-TCNQF4","x":740,"y":41},{"s":"Ag-TCNQF4","x":768,"y":38},{"s":"Ag-TCNQF4","x":790,"y":35},{"s":"Ag-TCNQF4","x":807,"y":33},{"s":"Ag-TCNQF4","x":830,"y":31},{"s":"Ag-TCNQF4","x":850,"y":30}
  ]
 },
 "vconcat": [
  {
   "width": 413,
   "height": 248,
   "layer": [
    {
     "data": {"name": "xrd"},
     "mark": {"type": "line", "strokeWidth": 1.1},
     "encoding": {
      "x": {"field": "x", "type": "quantitative", "scale": {"domain": [5, 50], "nice": false},
       "axis": {"title": "2-Theta/omega(deg)", "values": [5,7.5,10,12.5,15,17.5,20,22.5,25,27.5,30,32.5,35,37.5,40,42.5,45,47.5,50],
        "labelExpr": "datum.value % 5 === 0 ? format(datum.value, 'd') : ''", "labelFlush": false, "labelOverlap": false,
        "labelFontSize": 12, "titleFontSize": 17, "tickSize": 4, "labelPadding": 3, "titlePadding": 5}},
      "y": {"field": "y", "type": "quantitative", "scale": {"domain": [0, 248], "nice": false},
       "axis": {"title": "Intensity(\u00a0\u00a0a.u.)", "labels": false, "ticks": false, "domain": false, "titleFontSize": 19, "titlePadding": 3, "titleY": 133}},
      "color": {"field": "s", "type": "nominal", "scale": {"domain": ["Ag-TCNQF4", "0.5mM", "5.0mM"], "range": ["#000000", "#ff0000", "#0000ff"]}, "legend": null}
     }
    },
    {
     "data": {"values": [{"x": 24.1, "y": 90, "x2": 22.26, "y2": 184, "a": 350}, {"x": 24.55, "y": 147, "x2": 25.75, "y2": 185, "a": 16}]},
     "layer": [
      {"mark": {"type": "rule", "strokeWidth": 0.8, "color": "#222"},
       "encoding": {"x": {"field": "x", "type": "quantitative"}, "y": {"field": "y", "type": "quantitative"}, "x2": {"field": "x2"}, "y2": {"field": "y2"}}},
      {"mark": {"type": "point", "shape": "triangle-up", "filled": true, "color": "#222", "opacity": 1, "size": 16},
       "encoding": {"x": {"field": "x2", "type": "quantitative"}, "y": {"field": "y2", "type": "quantitative"}, "angle": {"field": "a", "type": "quantitative", "scale": null}}}
     ]
    },
    {
     "data": {"values": [{"x": 7.62, "y": 218, "t": "A"}]},
     "mark": {"type": "text", "fontSize": 24, "fontWeight": "bold", "color": "#000"},
     "encoding": {"x": {"field": "x", "type": "quantitative"}, "y": {"field": "y", "type": "quantitative"}, "text": {"field": "t"}}
    },
    {
     "data": {"values": [{"x": 16.14, "y": 203, "t": "AuNPs@Ag-TCNQF₄"}]},
     "mark": {"type": "text", "fontSize": 13.5, "fontWeight": "bold", "align": "left", "color": "#111"},
     "encoding": {"x": {"field": "x", "type": "quantitative"}, "y": {"field": "y", "type": "quantitative"}, "text": {"field": "t"}}
    },
    {
     "data": {"values": [{"x": 44.2, "y": 174, "t": "[KAuCl₄]"}, {"x": 44.65, "y": 155, "t": "5.0mM"}, {"x": 44.2, "y": 102, "t": "[KAuCl₄]"}, {"x": 45.3, "y": 85, "t": "0.5 mM"}, {"x": 41.9, "y": 32, "t": "Ag-TCNQF₄"}]},
     "mark": {"type": "text", "fontSize": 13.5, "fontWeight": "bold", "color": "#111"},
     "encoding": {"x": {"field": "x", "type": "quantitative"}, "y": {"field": "y", "type": "quantitative"}, "text": {"field": "t"}}
    },
    {
     "data": {"values": [{"x": 37.22, "y": 161, "t": "Au(111)"}]},
     "mark": {"type": "text", "fontSize": 13.5, "fontWeight": "bold", "color": "#ff0000"},
     "encoding": {"x": {"field": "x", "type": "quantitative"}, "y": {"field": "y", "type": "quantitative"}, "text": {"field": "t"}}
    }
   ]
  },
  {
   "width": 415,
   "height": 248,
   "layer": [
    {
     "data": {"name": "uv"},
     "mark": {"type": "line", "strokeWidth": 2},
     "encoding": {
      "x": {"field": "x", "type": "quantitative", "scale": {"domain": [250, 850], "nice": false},
       "axis": {"title": "Wavelength (nm)", "values": [300,350,400,450,500,550,600,650,700,750,800,850],
        "labelExpr": "datum.value % 100 === 0 ? format(datum.value, 'd') : ''", "labelFlush": false, "labelOverlap": false,
        "labelFontSize": 13, "titleFontSize": 18.5, "tickSize": 4, "labelPadding": 3, "titlePadding": 3}},
      "y": {"field": "y", "type": "quantitative", "scale": {"domain": [0, 248], "nice": false},
       "axis": {"title": "Absorbance (a.u.)", "labels": false, "ticks": false, "domain": false, "titleFontSize": 22, "titlePadding": 3, "titleY": 142}},
      "color": {"field": "s", "type": "nominal", "scale": {"domain": ["Ag-TCNQF4", "0.5mM", "5.0mM"], "range": ["#000000", "#ff0000", "#0000ff"]}, "legend": null}
     }
    },
    {
     "data": {"values": [{"x": 439, "y": 134, "x2": 465, "y2": 206, "a": 14}, {"x": 471, "y": 175, "x2": 478, "y2": 198, "a": 12}]},
     "layer": [
      {"mark": {"type": "rule", "strokeWidth": 0.8, "color": "#222"},
       "encoding": {"x": {"field": "x", "type": "quantitative"}, "y": {"field": "y", "type": "quantitative"}, "x2": {"field": "x2"}, "y2": {"field": "y2"}}},
      {"mark": {"type": "point", "shape": "triangle-up", "filled": true, "color": "#222", "opacity": 1, "size": 16},
       "encoding": {"x": {"field": "x2", "type": "quantitative"}, "y": {"field": "y2", "type": "quantitative"}, "angle": {"field": "a", "type": "quantitative", "scale": null}}}
     ]
    },
    {
     "data": {"values": [{"x": 280.3, "y": 223, "t": "B"}]},
     "mark": {"type": "text", "fontSize": 24, "fontWeight": "bold", "color": "#000"},
     "encoding": {"x": {"field": "x", "type": "quantitative"}, "y": {"field": "y", "type": "quantitative"}, "text": {"field": "t"}}
    },
    {
     "data": {"values": [{"x": 400, "y": 214, "t": "AuNPs@Ag-TCNQF₄"}]},
     "mark": {"type": "text", "fontSize": 13.5, "fontWeight": "bold", "align": "left", "color": "#111"},
     "encoding": {"x": {"field": "x", "type": "quantitative"}, "y": {"field": "y", "type": "quantitative"}, "text": {"field": "t"}}
    },
    {
     "data": {"values": [{"x": 770.7, "y": 176, "t": "[KAuCl₄]"}, {"x": 779.4, "y": 160, "t": "5.0mM"}, {"x": 770.7, "y": 121, "t": "[KAuCl₄]"}, {"x": 779.4, "y": 103, "t": "0.5 mM"}, {"x": 740.4, "y": 63, "t": "Ag-TCNQF₄"}]},
     "mark": {"type": "text", "fontSize": 14, "fontWeight": "bold", "color": "#111"},
     "encoding": {"x": {"field": "x", "type": "quantitative"}, "y": {"field": "y", "type": "quantitative"}, "text": {"field": "t"}}
    }
   ]
  }
 ],
 "config": {
  "font": "Liberation Sans",
  "view": {"stroke": "#999999", "strokeWidth": 1},
  "axis": {"grid": false, "labelFont": "Liberation Sans", "titleFont": "Liberation Sans", "labelFontWeight": "bold", "titleFontWeight": "bold", "labelColor": "#000", "titleColor": "#000", "domainColor": "#555", "tickColor": "#555"},
  "text": {"font": "Liberation Sans"}
 }
}
